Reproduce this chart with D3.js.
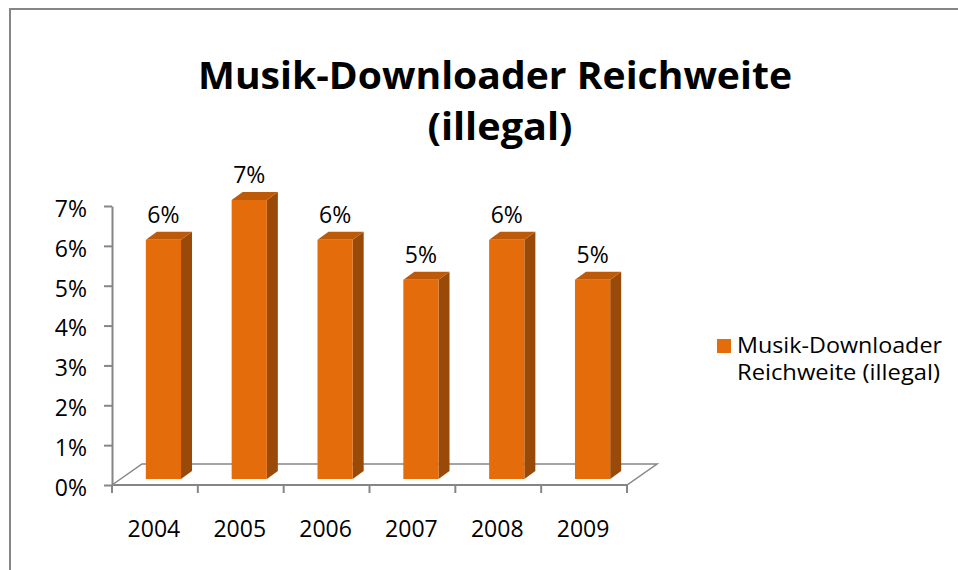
<!DOCTYPE html>
<html>
<head>
<meta charset="utf-8">
<script src="https://cdn.jsdelivr.net/npm/d3@7"></script>
<style>
  body { margin: 0; background: #fff; }
  svg text { font-family: "Open Sans", "Noto Sans", sans-serif; fill: #000; }
</style>
</head>
<body>
<div id="chart"></div>
<script>
/*
DATA
*/
const years = ["2004", "2005", "2006", "2007", "2008", "2009"];
const values = [0.06, 0.07, 0.06, 0.05, 0.06, 0.05];
const yTicks = [0, 0.01, 0.02, 0.03, 0.04, 0.05, 0.06, 0.07];
const titleLines = ["Musik-Downloader Reichweite", "(illegal)"];
const legendLines = ["Musik-Downloader", "Reichweite (illegal)"];

/*
SET UP
*/
const w = 958;
const h = 570;
const plot = { left: 112, right: 627, bottom: 485, top: 206 };
const depth = { dx: 30, dy: -21 };       // floor depth
const barDepth = { dx: 11, dy: -8 };     // bar side depth
const orange = "#E46C0A";
const sideCol = "#9A4A08";
const topCol = "#BC5A09";
const axisCol = "#868686";

const svg = d3.select("#chart")
  .append("svg")
  .attr("width", w)
  .attr("height", h);

// chart frame
svg.append("rect")
  .attr("x", 10).attr("y", 9)
  .attr("width", w + 20).attr("height", h + 20)
  .attr("fill", "#fff")
  .attr("stroke", axisCol)
  .attr("stroke-width", 2);

/*
SCALES
*/
const x = d3.scaleBand()
  .domain(years)
  .range([plot.left, plot.right]);

const y = d3.scaleLinear()
  .domain([0, 0.07])
  .range([plot.bottom, plot.top]);

/*
TITLE
*/
svg.selectAll(".title")
  .data(titleLines)
  .join("text")
  .attr("class", "title")
  .attr("x", (d, i) => i === 0 ? 495 : 500)
  .attr("y", (d, i) => 89 + i * 51)
  .attr("text-anchor", "middle")
  .attr("font-size", 37)
  .attr("font-weight", "bold")
  .attr("textLength", (d, i) => i === 0 ? 594 : 145)
  .attr("lengthAdjust", "spacingAndGlyphs")
  .text((d) => d);

/*
FLOOR
*/
svg.append("path")
  .attr("d", d3.line()([
    [plot.left, plot.bottom],
    [plot.right, plot.bottom],
    [plot.right + depth.dx, plot.bottom + depth.dy],
    [plot.left + depth.dx, plot.bottom + depth.dy],
    [plot.left, plot.bottom]
  ]))
  .attr("fill", "none")
  .attr("stroke", axisCol)
  .attr("stroke-width", 1.5);

/*
Y AXIS
*/
const yAxis = svg.append("g")
  .attr("transform", `translate(${plot.left},0)`)
  .call(d3.axisLeft(y)
    .tickValues(yTicks)
    .tickFormat(d3.format(".0%"))
    .tickSize(8)
    .tickSizeOuter(0)
    .tickPadding(17));

yAxis.selectAll("path, line").attr("stroke", axisCol).attr("stroke-width", 2);
yAxis.selectAll("text")
  .attr("font-size", 23)
  .attr("dy", "0.45em")
  .attr("font-family", "'Open Sans', sans-serif")
  .attr("fill", "#000");

/*
X AXIS (ticks between categories)
*/
const xAxis = svg.append("g");
xAxis.append("line")
  .attr("x1", plot.left).attr("x2", plot.right)
  .attr("y1", plot.bottom).attr("y2", plot.bottom)
  .attr("stroke", axisCol).attr("stroke-width", 2);

xAxis.selectAll(".xtick")
  .data(years.concat(["end"]))
  .join("line")
  .attr("class", "xtick")
  .attr("x1", (d) => d === "end" ? plot.right : x(d))
  .attr("x2", (d) => d === "end" ? plot.right : x(d))
  .attr("y1", plot.bottom)
  .attr("y2", plot.bottom + 8)
  .attr("stroke", axisCol).attr("stroke-width", 2);

xAxis.selectAll(".xlabel")
  .data(years)
  .join("text")
  .attr("class", "xlabel")
  .attr("x", (d) => x(d) + x.bandwidth() / 2 - 1)
  .attr("y", 537)
  .attr("text-anchor", "middle")
  .attr("font-size", 23)
  .text((d) => d);

/*
BARS (3D look)
*/
const barW = x.step() * 0.41;
const shiftX = 8.5;
const shiftY = -6;

function barFrontX(d) {
  return x(d) + x.bandwidth() / 2 + shiftX - barW / 2;
}

const bars = svg.selectAll(".bar")
  .data(years.map((d, i) => ({ year: d, value: values[i] })))
  .join("g")
  .attr("class", "bar");

// side face
bars.append("path")
  .attr("d", (d) => {
    const x0 = barFrontX(d.year) + barW;
    const yt = y(d.value) + shiftY;
    const yb = y(0) + shiftY;
    return d3.line()([
      [x0, yb], [x0, yt],
      [x0 + barDepth.dx, yt + barDepth.dy],
      [x0 + barDepth.dx, yb + barDepth.dy]
    ]) + "Z";
  })
  .attr("fill", sideCol);

// top face
bars.append("path")
  .attr("d", (d) => {
    const x0 = barFrontX(d.year);
    const yt = y(d.value) + shiftY;
    return d3.line()([
      [x0, yt], [x0 + barW, yt],
      [x0 + barW + barDepth.dx, yt + barDepth.dy],
      [x0 + barDepth.dx, yt + barDepth.dy]
    ]) + "Z";
  })
  .attr("fill", topCol);

// front face
bars.append("rect")
  .attr("x", (d) => barFrontX(d.year))
  .attr("y", (d) => y(d.value) + shiftY)
  .attr("width", barW)
  .attr("height", (d) => y(0) - y(d.value))
  .attr("fill", orange);

// data labels
bars.append("text")
  .attr("x", (d) => barFrontX(d.year) + barW / 2)
  .attr("y", (d) => y(d.value) + shiftY - 17)
  .attr("text-anchor", "middle")
  .attr("font-size", 23)
  .text((d) => d3.format(".0%")(d.value));

/*
LEGEND
*/
const legend = svg.append("g");
legend.append("rect")
  .attr("x", 717).attr("y", 339)
  .attr("width", 14).attr("height", 14)
  .attr("fill", orange);

legend.selectAll(".legend-text")
  .data(legendLines)
  .join("text")
  .attr("class", "legend-text")
  .attr("x", 737)
  .attr("y", (d, i) => 353 + i * 27)
  .attr("font-size", 21)
  .attr("textLength", (d, i) => i === 0 ? 205 : 203)
  .attr("lengthAdjust", "spacingAndGlyphs")
  .text((d) => d);
</script>
</body>
</html>
